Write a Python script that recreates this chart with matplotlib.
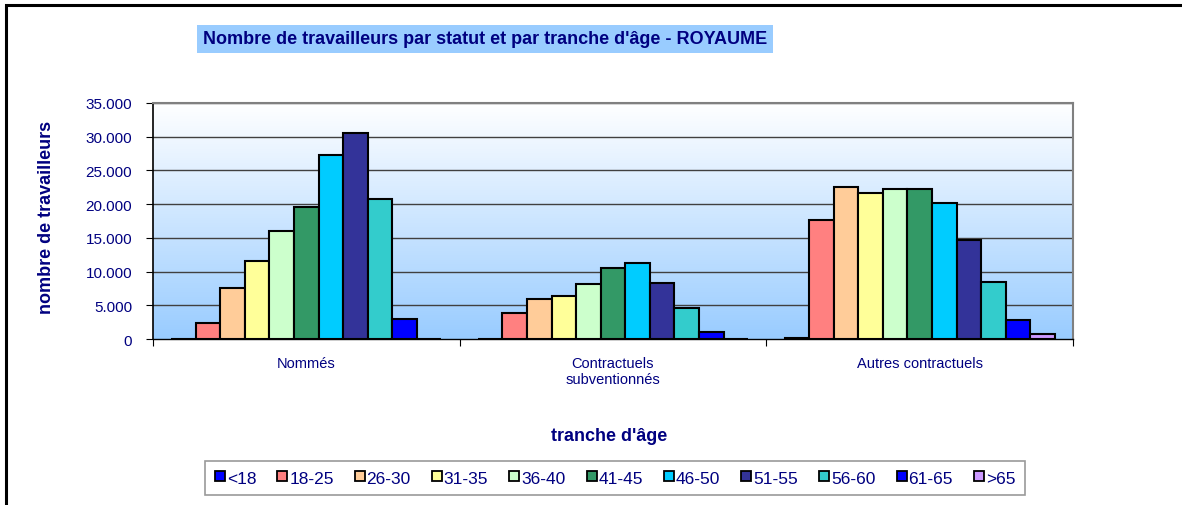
import numpy as np
import matplotlib
matplotlib.use("Agg")
import matplotlib.pyplot as plt
from matplotlib.patches import Rectangle
from matplotlib.lines import Line2D

plt.rcParams['font.family'] = ['Liberation Sans', 'DejaVu Sans']

categories = ["Nommés", "Contractuels\nsubventionnés", "Autres contractuels"]
age_groups = ["<18", "18-25", "26-30", "31-35", "36-40", "41-45", "46-50",
              "51-55", "56-60", "61-65", ">65"]
# values per age group: [Nommés, Contractuels subventionnés, Autres contractuels]
v_lt18 = [0, 0, 100]
v_18_25 = [2300, 3800, 17700]
v_26_30 = [7500, 6000, 22500]
v_31_35 = [11500, 6350, 21700]
v_36_40 = [16000, 8200, 22200]
v_41_45 = [19600, 10500, 22200]
v_46_50 = [27300, 11200, 20150]
v_51_55 = [30600, 8300, 14700]
v_56_60 = [20700, 4650, 8400]
v_61_65 = [2900, 1050, 2800]
v_gt65 = [0, 0, 750]
series = [v_lt18, v_18_25, v_26_30, v_31_35, v_36_40, v_41_45, v_46_50,
          v_51_55, v_56_60, v_61_65, v_gt65]
colors = ["#0000FF", "#FF8080", "#FFCC99", "#FFFF99", "#CCFFCC", "#339966",
          "#00CCFF", "#333399", "#33CCCC", "#0000FF", "#CC99FF"]
yticks = [0, 5000, 10000, 15000, 20000, 25000, 30000, 35000]
ytick_labels = ["0", "5.000", "10.000", "15.000", "20.000", "25.000", "30.000", "35.000"]

navy = "#000080"
W, H = 1182, 506
fig = plt.figure(figsize=(W / 100, H / 100), dpi=100)
fig.patch.set_facecolor("white")

# outer border (left & top visible)
fig.patches.append(Rectangle((6 / W, -0.1), 1.2, 1 - 6 / H + 0.1, transform=fig.transFigure,
                             fill=False, edgecolor="black", linewidth=2.2, zorder=0))

ax = fig.add_axes([153 / W, 1 - 340 / H, (1073 - 153) / W, (340 - 104) / H])
ax.set_xlim(0, 3)
ax.set_ylim(0, 35000)

# gradient background
grad = np.linspace(0, 1, 256).reshape(-1, 1)
top = np.array([1.0, 1.0, 1.0])
bot = np.array([0x99, 0xCC, 0xFF]) / 255
img = top[None, None, :] * (1 - grad[:, :, None]) + bot[None, None, :] * grad[:, :, None]
ax.imshow(img, extent=[0, 3, 0, 35000], aspect="auto", zorder=0, origin="upper")

for y in yticks[1:]:
    ax.axhline(y, color="#404040", linewidth=1.0, zorder=1)

n = len(series)
bw = 0.0801
x0 = np.arange(len(categories)) + 0.5 - n * bw / 2
for i, (vals, c) in enumerate(zip(series, colors)):
    ax.bar(x0 + i * bw, vals, width=bw, align="edge", color=c,
           edgecolor="black", linewidth=1.5, zorder=3, label=age_groups[i])

ax.set_yticks(yticks)
ax.set_yticklabels(ytick_labels, color=navy, fontsize=11)
ax.set_xticks([0, 1, 2, 3])
ax.set_xticklabels([])
ax.set_xticks([0.5, 1.5, 2.5], minor=True)
ax.set_xticklabels(categories, minor=True, color=navy, fontsize=10.5)
ax.tick_params(axis="x", which="minor", length=0, pad=12)
ax.tick_params(axis="x", which="major", length=5, direction="out", color="black")
ax.tick_params(axis="y", length=5, direction="out", color="black", pad=10)

for s in ["top", "right"]:
    ax.spines[s].set_color("#808080")
    ax.spines[s].set_linewidth(1.5)
ax.spines["left"].set_color("black")
ax.spines["bottom"].set_color("black")
ax.spines["left"].set_linewidth(1.2)
ax.spines["bottom"].set_linewidth(1.0)

fig.text(47 / W, 1 - 217 / H, "nombre de travailleurs", color=navy, fontsize=13,
         fontweight="bold", ha="center", va="center", rotation=90)
fig.text(609 / W, 1 - 437 / H, "tranche d'âge", color=navy, fontsize=13,
         fontweight="bold", ha="center", va="center")

# title
fig.text(485 / W, 1 - 40 / H, "Nombre de travailleurs par statut et par tranche d'âge - ROYAUME",
         color=navy, fontsize=13, fontweight="bold", ha="center", va="center",
         bbox=dict(boxstyle="square,pad=0.3", facecolor="#99CCFF", edgecolor="none"))

hs = [Line2D([], [], marker="s", linestyle="none", markersize=7, markerfacecolor=c,
             markeredgecolor="black", markeredgewidth=1.3) for c in colors]
leg = fig.legend(hs, age_groups, loc="center", bbox_to_anchor=(615 / W, 1 - 479 / H),
                 ncol=11, frameon=True, fancybox=False, fontsize=12.5,
                 handlelength=0.6, handletextpad=0.1, columnspacing=1.2,
                 borderpad=0.55)
leg.get_frame().set_edgecolor("#808080")
leg.get_frame().set_linewidth(1.2)
for t in leg.get_texts():
    t.set_color(navy)

fig.savefig("out.png", dpi=100)
